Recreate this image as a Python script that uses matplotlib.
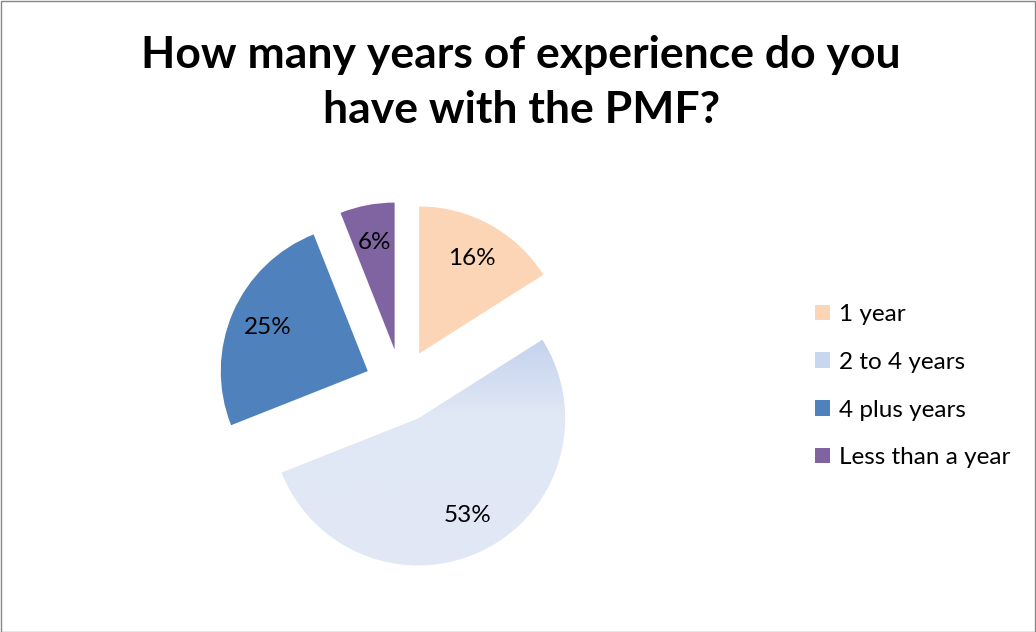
import numpy as np
import matplotlib
matplotlib.use('Agg')
import matplotlib.pyplot as plt
from matplotlib.patches import Rectangle
from matplotlib.colors import LinearSegmentedColormap

categories = ['1 year', '2 to 4 years', '4 plus years', 'Less than a year']
percents = [16, 53, 25, 6]
colors = ['#FBD5B5', '#C9D6EF', '#4F81BD', '#8064A2']
title_lines = ['How many years of experience do you', 'have with the PMF?']

plt.rcParams['font.family'] = ['Lato', 'DejaVu Sans']

W, H = 1036, 632
fig = plt.figure(figsize=(W / 100, H / 100), dpi=100)
fig.patch.set_facecolor('white')

# pie geometry in pixels -> radius becomes 1 data unit
R = 147.0
cx, cy = 401.5, H - 385.7
ax = fig.add_axes([0, 0, 1, 1])

wedges, texts, autotexts = ax.pie(
    percents, colors=colors, startangle=90, counterclock=False,
    explode=[0.25] * 4, autopct=lambda p: '%.0f%%' % p, pctdistance=0.74,
    textprops={'fontsize': 17.5, 'color': 'black'},
    wedgeprops={'linewidth': 0})

ax.set_xlim(-cx / R, (W - cx) / R)
ax.set_ylim(-cy / R, (H - cy) / R)
ax.set_aspect('auto')
ax.axis('off')

# gradient fill for the big slice
big = wedges[1]
big.set_facecolor('none')
cmap = LinearSegmentedColormap.from_list('g', ['#C4D2EE', '#E0E7F5', '#E1E8F5'])
grad = np.linspace(0, 1, 256).reshape(-1, 1)
grad = np.clip(grad / 0.65, 0, 1)
bx, by = big.center
img = ax.imshow(grad, cmap=cmap, aspect='auto', origin='upper',
                extent=(bx - 1.05, bx + 1.05, by - 1.02, by + 0.55), zorder=0.5)
img.set_clip_path(big)
for t in autotexts:
    t.set_zorder(3)

# title
fig.text(0.503, 1 - 68 / H, title_lines[0], ha='center', va='baseline',
         fontsize=32, fontweight='bold')
fig.text(0.503, 1 - 123 / H, title_lines[1], ha='center', va='baseline',
         fontsize=32, fontweight='bold')

# legend
handles = [Rectangle((0, 0), 1, 1, facecolor=c, edgecolor='none') for c in colors]
fig.legend(handles, categories, loc='center left', bbox_to_anchor=(0.766, 0.389),
           frameon=False, fontsize=17.5, handlelength=0.6, handleheight=0.6,
           handletextpad=0.35, labelspacing=1.1)

# outer border
fig.patches.append(Rectangle((0.5 / W, 0.5 / H), 1 - 1.5 / W, 1 - 1.5 / H,
                             transform=fig.transFigure, fill=False,
                             edgecolor='#868686', linewidth=1))

fig.savefig('out.png', dpi=100)
